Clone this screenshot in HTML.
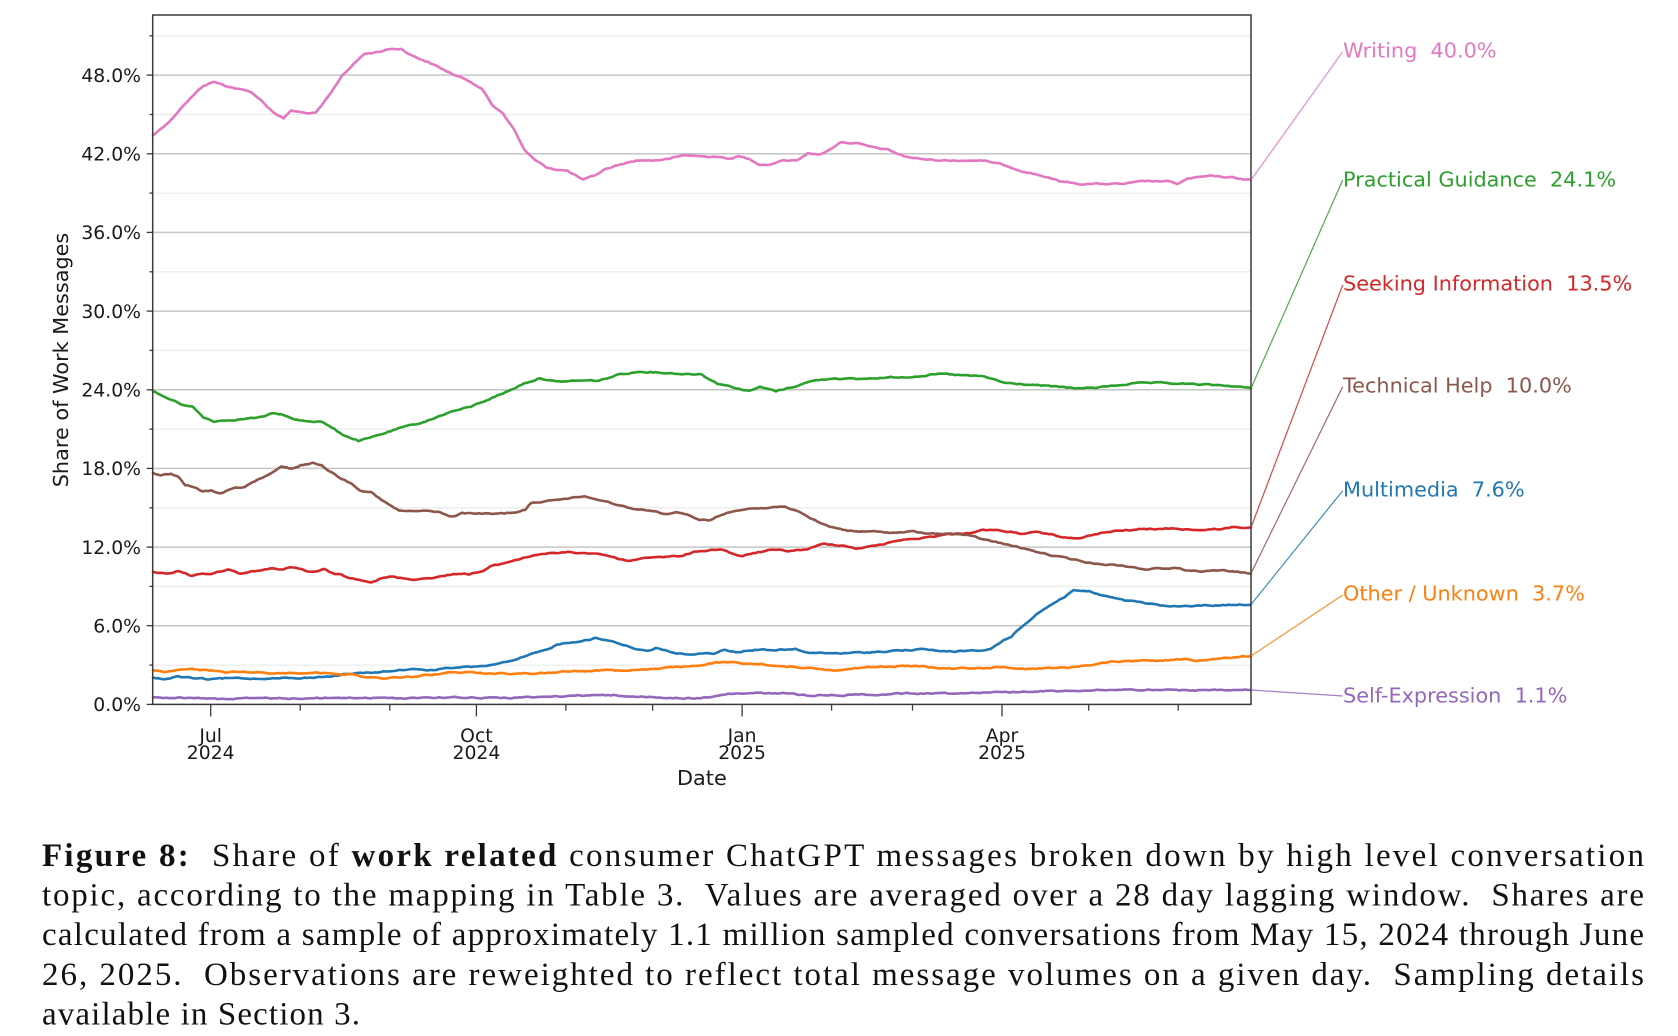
<!DOCTYPE html>
<html>
<head>
<meta charset="utf-8">
<style>
  html, body { margin: 0; padding: 0; background: #ffffff; }
  svg { display: block; }
  .tick { font-family: "DejaVu Sans", "Liberation Sans", sans-serif; font-size: 18.8px; fill: #1a1a1a; }
  .lab { font-family: "DejaVu Sans", "Liberation Sans", sans-serif; font-size: 20.8px; fill: #1a1a1a; }
  .ann { font-family: "DejaVu Sans", "Liberation Sans", sans-serif; font-size: 20.8px; }
  .cap { font-family: "Liberation Serif", "DejaVu Serif", serif; font-size: 33px; fill: #111; }
  .b { font-weight: bold; }
</style>
</head>
<body>
<svg width="1678" height="1036" viewBox="0 0 1678 1036" xmlns="http://www.w3.org/2000/svg">
  <rect x="0" y="0" width="1678" height="1036" fill="#ffffff"/>

  <!-- minor gridlines -->
  <g stroke="#ececec" stroke-width="1.3">
    <line x1="153" y1="665.1" x2="1251" y2="665.1"/>
    <line x1="153" y1="586.4" x2="1251" y2="586.4"/>
    <line x1="153" y1="507.8" x2="1251" y2="507.8"/>
    <line x1="153" y1="429.1" x2="1251" y2="429.1"/>
    <line x1="153" y1="350.4" x2="1251" y2="350.4"/>
    <line x1="153" y1="271.8" x2="1251" y2="271.8"/>
    <line x1="153" y1="193.1" x2="1251" y2="193.1"/>
    <line x1="153" y1="114.5" x2="1251" y2="114.5"/>
    <line x1="153" y1="35.8" x2="1251" y2="35.8"/>
  </g>
  <!-- major gridlines -->
  <g stroke="#c6c6c6" stroke-width="1.5">
    <line x1="153" y1="625.7" x2="1251" y2="625.7"/>
    <line x1="153" y1="547.1" x2="1251" y2="547.1"/>
    <line x1="153" y1="468.4" x2="1251" y2="468.4"/>
    <line x1="153" y1="389.8" x2="1251" y2="389.8"/>
    <line x1="153" y1="311.1" x2="1251" y2="311.1"/>
    <line x1="153" y1="232.4" x2="1251" y2="232.4"/>
    <line x1="153" y1="153.8" x2="1251" y2="153.8"/>
    <line x1="153" y1="75.1" x2="1251" y2="75.1"/>
  </g>

  <!-- series -->
  <g id="series" fill="none" stroke-width="2.6" stroke-linejoin="round" stroke-linecap="round">
    <polyline stroke="#e377c2" points="153,135.4 160.5,128.9 171.2,119.7 181.9,106.6 192.6,96.1 203.3,85.6 214,81.7 224.7,85.6 235.4,88.2 251.5,92.2 262.2,101.3 272.9,111.8 283.6,118.4 291.1,110.5 305,113.1 315.7,113.1 321,106.6 331.7,92.2 342.4,75.1 353.1,64.6 363.8,54.2 379.9,51.5 390.6,48.9 401.3,48.9 412,55.5 428,62 444.1,69.9 454.8,75.1 470.8,81.7 481.5,88.2 492.3,105.3 503,113.1 513.7,128.9 524.4,149.9 535.1,160.4 545.8,166.9 556.5,169.5 567.2,170.8 583.2,180 593.9,176.1 604.6,169.5 620.7,164.3 636.7,160.4 652.8,160.4 668.8,159 684.9,155.1 701,156.4 717,156.4 727.7,159 738.4,156.4 749.1,159 759.8,164.3 770.5,164.3 781.2,160.4 797.3,160.4 808,152.5 818.7,155.1 829.4,149.9 840.1,142 856.1,143.3 872.2,147.2 888.2,149.9 904.3,156.4 920.3,159 941.7,160.4 963.1,160.4 979.2,160.4 995.2,163 1005.9,165.6 1022,170.8 1043.4,176.1 1059.4,181.3 1080.8,183.9 1102.2,183.9 1123.7,183.9 1145.1,181.3 1166.5,181.3 1177.2,183.9 1187.9,178.7 1209.3,176.1 1230.7,177.4 1251,180"/>
    <polyline stroke="#2ca02c" points="153,391.1 165.8,397.6 181.9,404.2 192.6,406.8 203.3,417.3 214,421.2 230.1,419.9 246.1,418.6 262.2,417.3 272.9,413.4 283.6,414.7 294.3,419.9 310.3,421.2 321,421.2 331.7,427.8 342.4,434.3 358.5,440.9 369.2,438.3 385.2,433 401.3,427.8 417.3,423.9 433.4,418.6 449.4,412.1 470.8,406.8 492.3,397.6 508.3,391.1 524.4,383.2 540.4,378 556.5,381.9 577.9,380.6 599.3,380.6 620.7,374 642.1,371.4 663.5,372.7 684.9,374 701,374 717,383.2 733.1,387.1 749.1,391.1 759.8,387.1 775.9,391.1 792,387.1 813.4,380.6 834.8,378 856.1,379.3 877.5,378 909.6,376.7 941.7,374 963.1,375.4 984.5,376.7 1005.9,383.2 1027.3,384.5 1059.4,387.1 1080.8,388.4 1102.2,387.1 1134.3,383.2 1166.5,383.2 1198.6,384.5 1230.7,385.8 1251,388.4"/>
    <polyline stroke="#d62728" points="153,572 160.5,572.7 171,573.3 178,571 185,573.3 192,576 202.6,574 213.1,573.3 220,571.7 227.2,569 234.2,571 241.2,574 251.7,571 262.2,570.7 272.8,568.3 283.3,569.3 290.3,568 300.8,569.3 307.8,571.7 318.4,571.7 323.6,569.3 332.4,573.3 341.2,575 350,578.3 360.4,579.3 371,581.7 381.5,578.3 392,576.7 402.5,578.3 416.6,579.3 430.6,577.7 444.6,576 458.7,573.3 469.2,574 483.2,571 490.2,566.7 500.7,564.3 514.8,560 528.8,556.7 539.3,554 553.4,553.3 570.9,552.3 584.9,553.3 595.5,553.3 606,555 620,559.3 630.5,561 641,558.3 655.1,556.7 669.1,556.7 683.1,556 691.9,552.7 700,551 710.6,550 721.2,549 731.9,553.3 742.5,556.7 753.1,553.3 770.8,550 788.5,551 806.2,549.3 823.9,544 841.6,545 855.8,548.3 869.9,546.7 884.1,544 898.2,540 912.4,539.3 930.1,536.7 947.8,534.3 969,532.7 983.2,530 1000.9,530.7 1018.6,533.3 1036.3,532.7 1054,535 1068.1,538.3 1082.3,537.7 1100,533.3 1117.7,531 1138.9,529.3 1160.2,529 1174.3,528.3 1195.6,530 1216.8,529.3 1231,527.3 1251,527.4"/>
    <polyline stroke="#8c564b" points="153,472.7 160.5,476 171,474.3 178,477.3 185,485 193.8,486.7 202.6,491.7 211.4,491 220,494 229,490 237.7,487.7 244.7,486.7 251.7,482.7 262.2,478.3 271,474 281.5,466.7 292,469 300.8,465 313,463.3 321.9,465 328.9,470.7 339.4,477.3 350,482.7 360.4,490 371,491.7 381.5,500 392,506.7 399,510.7 409.6,511.3 423.6,511 437.6,511.7 446.4,515 453.4,516.7 462.2,513.3 476.2,513.3 490.2,514 504.3,513.3 518.3,511.7 525.3,510 530.6,503.3 542.8,501.7 553.4,499.3 570.9,498.3 584.9,496 595.5,499.3 606,500.7 613,503.3 630.5,508.3 651.6,510.7 665.6,514 676.1,512.7 686.6,515 700,519.5 710.6,520 721.2,515 735.4,510 749.6,508.3 763.7,508.3 785,506 795.6,510.7 809.7,518.3 827.4,526 845.1,530 859.3,531.7 877,531.7 894.7,532.7 912.4,531.7 930.1,534 947.8,533.3 965.5,535 983.2,539.3 1000.9,543.3 1018.6,547.3 1036.3,551.7 1054,556 1071.7,559.3 1089.4,562.7 1107.1,564.3 1124.8,566 1146,569.3 1160.2,568.3 1174.3,567.7 1188.5,570.7 1206.2,571 1223.9,570.7 1237.5,572 1251,573.3"/>
    <polyline stroke="#1f77b4" points="153,677.5 164,679.3 178,676.7 192,678.3 209.6,679.3 227.2,678.3 244.7,678.3 262.2,678.7 279.8,677.3 297.3,678.7 314.9,677.3 332.4,676 346.4,674 360.4,673.3 374.5,672.7 388.5,671 402.5,670 416.6,669.3 430.6,670 448.1,668.3 465.7,667.3 483.2,666 500.7,663.3 514.8,660.7 528.8,655 542.8,651 556.9,644.7 570.9,642.3 584.9,640 595.5,638.3 606,640 620,643.3 637.5,649.3 648.1,650.7 655.1,648.3 665.6,650 676.1,654 690.1,654.3 700,653.3 714.2,653.3 724.8,650 735.4,651.7 749.6,650.7 763.7,649.3 781.4,650 795.6,649.3 806.2,652.7 823.9,653.3 841.6,653.3 859.3,652.7 877,652 894.7,650.7 912.4,650 926.5,649.3 940.7,651.3 954.9,651.3 969,651 983.2,650.7 990.3,649.3 1000.9,641.7 1011.5,636 1022.1,626.7 1036.3,614 1054,602.7 1064.6,596.7 1073.5,590 1089.4,591.7 1107.1,596.7 1124.8,600.7 1142.5,602.7 1160.2,605.7 1177.9,606.7 1195.6,605.3 1213.3,605.7 1231,604.7 1251,604.5"/>
    <polyline stroke="#ff7f0e" points="153,670 164,671.7 178,669.3 192,669.3 209.6,670.7 227.2,672.3 244.7,672.3 262.2,672.7 279.8,673.3 297.3,672.7 314.9,672.7 332.4,673.3 350,674.3 364,676.7 378,678.3 388.5,678.3 402.5,677.3 420.1,676 437.6,674.3 451.6,672.3 465.7,672.3 483.2,673.3 500.7,673.3 518.3,673.3 535.8,673.3 553.4,672.7 570.9,671 588.4,670.7 606,670 623.5,670.7 641,669.3 658.6,669 672.6,667.3 686.6,666.7 700,665 714.2,662.7 731.9,662.7 746,664 763.7,664 781.4,666.7 799.1,667.3 816.8,668.3 834.5,670 848.7,669.3 862.8,667.3 884.1,666.7 905.3,666 926.5,666.7 940.7,668.3 961.9,668.3 983.2,667.7 1004.4,667.3 1025.7,668.7 1046.9,668 1068.1,667.7 1089.4,665 1110.6,661.7 1135.4,660.7 1160.2,660 1185,659.3 1195.6,660.7 1213.3,658.3 1231,657.3 1251,656"/>
    <polyline stroke="#9467bd" points="153,697.3 220,698.7 290,698.3 360,697.7 395,698.3 430.6,697.3 465.7,697.3 500.7,697.7 535.8,697.3 563.9,696 592,695 616.5,695.3 641,696.7 662.1,697.7 700,698.3 714.2,696.7 728.3,694 753.1,693.3 788.5,693.3 806.2,695.3 841.6,695 877,694.3 912.4,693.3 947.8,693.3 983.2,692.3 1018.6,691.7 1054,691 1089.4,690.3 1124.8,689.7 1160.2,690.3 1195.6,690.3 1231,690.3 1251,690"/>
  </g>

  <!-- axes frame -->
  <rect x="152.7" y="15" width="1098.3" height="689.4" fill="none" stroke="#3a3a3a" stroke-width="1.5"/>

  <!-- y ticks -->
  <g stroke="#3a3a3a" stroke-width="1.3">
    <line x1="146.7" y1="704.4" x2="152.7" y2="704.4"/>
    <line x1="146.7" y1="625.7" x2="152.7" y2="625.7"/>
    <line x1="146.7" y1="547.1" x2="152.7" y2="547.1"/>
    <line x1="146.7" y1="468.4" x2="152.7" y2="468.4"/>
    <line x1="146.7" y1="389.8" x2="152.7" y2="389.8"/>
    <line x1="146.7" y1="311.1" x2="152.7" y2="311.1"/>
    <line x1="146.7" y1="232.4" x2="152.7" y2="232.4"/>
    <line x1="146.7" y1="153.8" x2="152.7" y2="153.8"/>
    <line x1="146.7" y1="75.1" x2="152.7" y2="75.1"/>
    <line x1="149.5" y1="665.1" x2="152.7" y2="665.1"/>
    <line x1="149.5" y1="586.4" x2="152.7" y2="586.4"/>
    <line x1="149.5" y1="507.8" x2="152.7" y2="507.8"/>
    <line x1="149.5" y1="429.1" x2="152.7" y2="429.1"/>
    <line x1="149.5" y1="350.4" x2="152.7" y2="350.4"/>
    <line x1="149.5" y1="271.8" x2="152.7" y2="271.8"/>
    <line x1="149.5" y1="193.1" x2="152.7" y2="193.1"/>
    <line x1="149.5" y1="114.5" x2="152.7" y2="114.5"/>
    <line x1="149.5" y1="35.8" x2="152.7" y2="35.8"/>
  </g>
  <g class="tick" text-anchor="end">
    <text x="141" y="711.2">0.0%</text>
    <text x="141" y="632.5">6.0%</text>
    <text x="141" y="553.9">12.0%</text>
    <text x="141" y="475.2">18.0%</text>
    <text x="141" y="396.6">24.0%</text>
    <text x="141" y="317.9">30.0%</text>
    <text x="141" y="239.2">36.0%</text>
    <text x="141" y="160.6">42.0%</text>
    <text x="141" y="81.9">48.0%</text>
  </g>

  <!-- x ticks -->
  <g stroke="#3a3a3a" stroke-width="1.3">
    <line x1="210.7" y1="704.4" x2="210.7" y2="716.4"/>
    <line x1="476.4" y1="704.4" x2="476.4" y2="716.4"/>
    <line x1="742.1" y1="704.4" x2="742.1" y2="716.4"/>
    <line x1="1002" y1="704.4" x2="1002" y2="716.4"/>
    <line x1="300.2" y1="704.4" x2="300.2" y2="710.6"/>
    <line x1="389.8" y1="704.4" x2="389.8" y2="710.6"/>
    <line x1="565.9" y1="704.4" x2="565.9" y2="710.6"/>
    <line x1="652.6" y1="704.4" x2="652.6" y2="710.6"/>
    <line x1="831.6" y1="704.4" x2="831.6" y2="710.6"/>
    <line x1="912.5" y1="704.4" x2="912.5" y2="710.6"/>
    <line x1="1088.7" y1="704.4" x2="1088.7" y2="710.6"/>
    <line x1="1178.2" y1="704.4" x2="1178.2" y2="710.6"/>
  </g>
  <g class="tick" text-anchor="middle">
    <text x="210.7" y="742">Jul</text>
    <text x="210.7" y="759">2024</text>
    <text x="476.4" y="742">Oct</text>
    <text x="476.4" y="759">2024</text>
    <text x="742.1" y="742">Jan</text>
    <text x="742.1" y="759">2025</text>
    <text x="1002" y="742">Apr</text>
    <text x="1002" y="759">2025</text>
  </g>
  <text class="lab" x="701.9" y="785" text-anchor="middle">Date</text>
  <text class="lab" text-anchor="middle" transform="translate(68,360) rotate(-90)">Share of Work Messages</text>

  <!-- leader lines -->
  <g stroke-width="1.2" fill="none" opacity="0.85">
    <line x1="1251" y1="180" x2="1342.7" y2="51.7" stroke="#e377c2"/>
    <line x1="1251" y1="388.4" x2="1342.7" y2="180" stroke="#2ca02c"/>
    <line x1="1251" y1="527.4" x2="1342.7" y2="285" stroke="#d62728"/>
    <line x1="1251" y1="573.3" x2="1342.7" y2="386.7" stroke="#8c564b"/>
    <line x1="1251" y1="604.5" x2="1342.7" y2="490.7" stroke="#1f77b4"/>
    <line x1="1251" y1="656" x2="1342.7" y2="595" stroke="#ff7f0e"/>
    <line x1="1251" y1="690" x2="1342.7" y2="696" stroke="#9467bd"/>
  </g>
  <!-- annotations -->
  <g class="ann">
    <text x="1343" y="57.5" fill="#e377c2">Writing&#160;&#160;40.0%</text>
    <text x="1343" y="186.3" fill="#2ca02c">Practical Guidance&#160;&#160;24.1%</text>
    <text x="1343" y="290.3" fill="#d62728">Seeking Information&#160;&#160;13.5%</text>
    <text x="1343" y="392.3" fill="#8c564b">Technical Help&#160;&#160;10.0%</text>
    <text x="1343" y="496.5" fill="#1f77b4">Multimedia&#160;&#160;7.6%</text>
    <text x="1343" y="600.5" fill="#ff7f0e">Other / Unknown&#160;&#160;3.7%</text>
    <text x="1343" y="702.3" fill="#9467bd">Self-Expression&#160;&#160;1.1%</text>
  </g>

  <!-- caption -->
  <g class="cap">
    <text x="42" y="866" textLength="1602" lengthAdjust="spacing"><tspan class="b">Figure 8:</tspan>&#160; Share of <tspan class="b">work related</tspan> consumer ChatGPT messages broken down by high level conversation</text>
    <text x="42" y="905.6" textLength="1602" lengthAdjust="spacing">topic, according to the mapping in Table 3.&#160; Values are averaged over a 28 day lagging window.&#160; Shares are</text>
    <text x="42" y="945.2" textLength="1602" lengthAdjust="spacing">calculated from a sample of approximately 1.1 million sampled conversations from May 15, 2024 through June</text>
    <text x="42" y="984.8" textLength="1602" lengthAdjust="spacing">26, 2025.&#160; Observations are reweighted to reflect total message volumes on a given day.&#160; Sampling details</text>
    <text x="42" y="1024.4" textLength="318" lengthAdjust="spacing">available in Section 3.</text>
  </g>
</svg>
<script>
(function(){
  var seed = 12345;
  function rnd(){ seed = (seed * 1103515245 + 12345) & 0x7fffffff; return seed / 0x7fffffff; }
  var lines = document.querySelectorAll('#series polyline');
  for (var k = 0; k < lines.length; k++) {
    var pl = lines[k];
    var pts = pl.getAttribute('points').trim().split(/\s+/).map(function(p){ var a = p.split(','); return [parseFloat(a[0]), parseFloat(a[1])]; });
    var out = [];
    var walk = 0;
    for (var i = 0; i < pts.length - 1; i++) {
      var x0 = pts[i][0], y0 = pts[i][1], x1 = pts[i+1][0], y1 = pts[i+1][1];
      var n = Math.max(1, Math.round((x1 - x0) / 2.7));
      for (var j = 0; j < n; j++) {
        var t = j / n;
        var x = x0 + (x1 - x0) * t, y = y0 + (y1 - y0) * t;
        if (!(i === 0 && j === 0)) {
          walk = walk * 0.6 + (rnd() - 0.5) * 1.1;
          y += walk;
        }
        out.push(x.toFixed(1) + ',' + y.toFixed(1));
      }
    }
    var last = pts[pts.length - 1];
    out.push(last[0].toFixed(1) + ',' + last[1].toFixed(1));
    pl.setAttribute('points', out.join(' '));
  }
})();
</script>
</body>
</html>
